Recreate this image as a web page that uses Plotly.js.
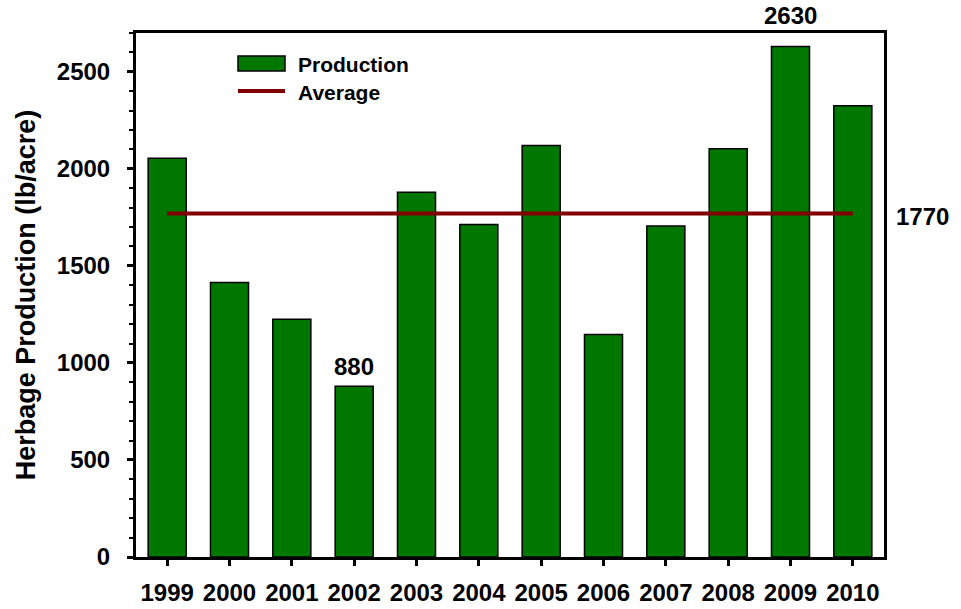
<!DOCTYPE html>
<html>
<head>
<meta charset="utf-8">
<script src="https://cdn.plot.ly/plotly-3.0.1.min.js"></script>
<style>html,body{margin:0;padding:0;background:#fff;}#chart{width:961px;height:609px;}</style>
</head>
<body>
<div id="chart"></div>
<script>
// Data
const years = ['1999','2000','2001','2002','2003','2004','2005','2006','2007','2008','2009','2010'];
const production = [2055, 1415, 1225, 880, 1880, 1713, 2120, 1146, 1706, 2103, 2630, 2325];
const averageValue = 1770;
const averageX = [years[0], years[years.length - 1]];
const averageY = [averageValue, averageValue];
const yTicks = [0, 500, 1000, 1500, 2000, 2500];
const labelMin = {x: '2002', y: 880, text: '880'};
const labelMax = {x: '2009', y: 2630, text: '2630'};
const labelAvg = {y: 1770, text: '1770'};
const legendNames = ['Production', 'Average'];

const FONT = 'Liberation Sans, Arial, sans-serif';
const GREEN = '#007800';
const RED = '#800000';

// helpers to convert pixel positions to paper coords for the hand legend
const PL = 136, PR = 884, PT = 33, PB = 557;
const px = v => (v - PL) / (PR - PL);
const py = v => (PB - v) / (PB - PT);
const bold = size => ({family: FONT, size: size, color: '#000', weight: 'bold'});

const traces = [
  {
    type: 'bar', x: years, y: production, name: legendNames[0],
    marker: {color: GREEN, line: {color: '#000', width: 1.5}},
    showlegend: false, hoverinfo: 'x+y'
  },
  {
    type: 'scatter', mode: 'lines', x: averageX, y: averageY, name: legendNames[1],
    line: {color: RED, width: 4}, showlegend: false
  }
];

const layout = {
  width: 961, height: 609,
  margin: {l: PL, r: 961 - PR, t: PT, b: 609 - PB},
  paper_bgcolor: '#fff', plot_bgcolor: '#fff',
  font: bold(24),
  bargap: 0.39,
  showlegend: false,
  xaxis: {
    type: 'category', range: [-0.5, 11.5],
    showline: true, linecolor: '#000', linewidth: 3, mirror: true,
    ticks: 'outside', ticklen: 6, tickwidth: 3, tickcolor: '#000',
    tickfont: bold(24),
    ticklabelstandoff: 6,
    showgrid: false, zeroline: false, fixedrange: true
  },
  yaxis: {
    range: [0, 2700],
    tickvals: yTicks, ticktext: yTicks.map(String),
    showline: true, linecolor: '#000', linewidth: 3, mirror: true,
    ticks: 'outside', ticklen: 6, tickwidth: 3, tickcolor: '#000',
    minor: {dtick: 100, ticks: 'outside', ticklen: 4, tickwidth: 2, tickcolor: '#000', showgrid: false},
    tickfont: bold(24),
    ticklabelstandoff: 12,
    showgrid: false, zeroline: false, fixedrange: true,
    title: {text: 'Herbage Production (lb/acre)', font: bold(27), standoff: 14}
  },
  shapes: [
    {type: 'rect', xref: 'paper', yref: 'paper', x0: px(238), x1: px(285), y0: py(71), y1: py(56),
     fillcolor: GREEN, line: {color: '#000', width: 1.5}},
    {type: 'line', xref: 'paper', yref: 'paper', x0: px(238), x1: px(285), y0: py(91), y1: py(91),
     line: {color: RED, width: 4}}
  ],
  annotations: [
    {xref: 'paper', yref: 'paper', x: px(296), y: py(64), text: legendNames[0], showarrow: false,
     xanchor: 'left', yanchor: 'middle', font: bold(21)},
    {xref: 'paper', yref: 'paper', x: px(296), y: py(92), text: legendNames[1], showarrow: false,
     xanchor: 'left', yanchor: 'middle', font: bold(21)},
    {xref: 'x', yref: 'y', x: years.indexOf(labelMin.x), y: labelMin.y, text: labelMin.text, showarrow: false,
     yanchor: 'bottom', yshift: 4, font: bold(24)},
    {xref: 'x', yref: 'y', x: years.indexOf(labelMax.x), y: labelMax.y, text: labelMax.text, showarrow: false,
     yanchor: 'bottom', yshift: 16, font: bold(24)},
    {xref: 'paper', yref: 'y', x: px(922), y: labelAvg.y, text: labelAvg.text, showarrow: false,
     xanchor: 'center', yanchor: 'middle', yshift: -3, font: bold(24)}
  ]
};

Plotly.newPlot('chart', traces, layout, {displayModeBar: false, staticPlot: true});
</script>
</body>
</html>
